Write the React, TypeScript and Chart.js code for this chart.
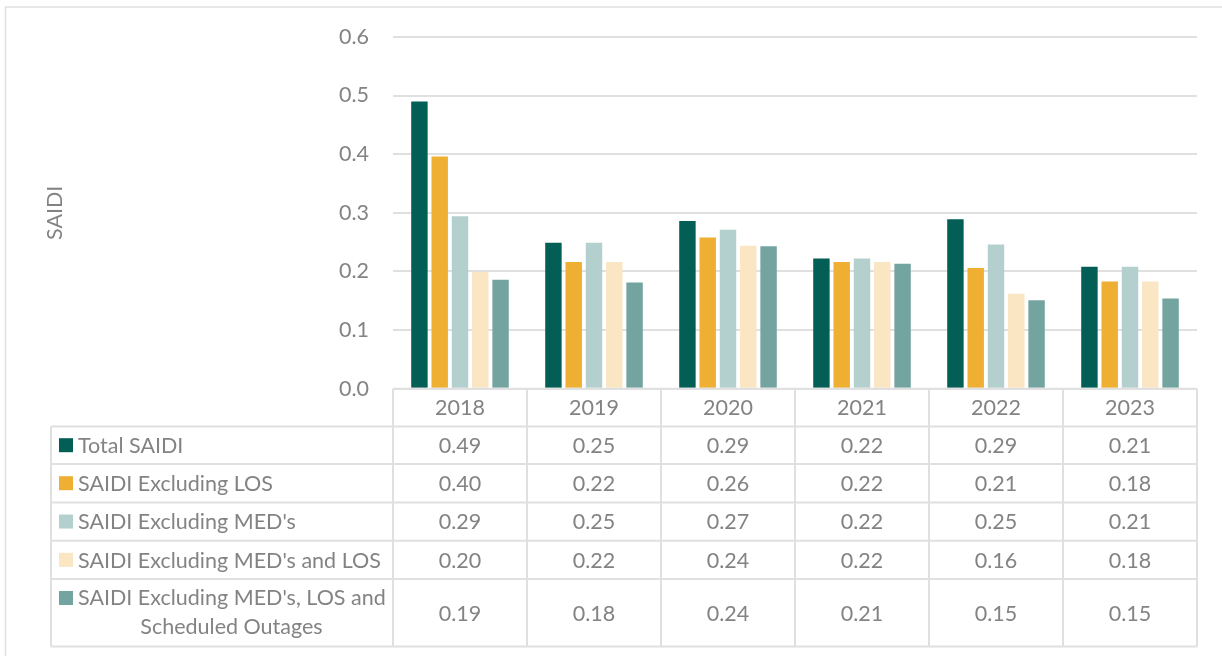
import { useEffect, useRef } from "react";
import { Chart, registerables } from "chart.js";

Chart.register(...registerables);

// Years shown along the category axis and in the table header
const years = ["2018", "2019", "2020", "2021", "2022", "2023"];

// Series names (the last one wraps onto two lines in the table)
const seriesNames = [
  "Total SAIDI",
  "SAIDI Excluding LOS",
  "SAIDI Excluding MED's",
  "SAIDI Excluding MED's and LOS",
  "SAIDI Excluding MED's, LOS and Scheduled Outages",
];
const seriesLines = [
  ["Total SAIDI"],
  ["SAIDI Excluding LOS"],
  ["SAIDI Excluding MED's"],
  ["SAIDI Excluding MED's and LOS"],
  ["SAIDI Excluding MED's, LOS and", "Scheduled Outages"],
];

// SAIDI values per year
const totalSaidi = [0.49, 0.249, 0.286, 0.222, 0.289, 0.208];
const saidiExclLos = [0.396, 0.216, 0.258, 0.216, 0.206, 0.183];
const saidiExclMeds = [0.294, 0.249, 0.271, 0.222, 0.246, 0.208];
const saidiExclMedsLos = [0.199, 0.216, 0.244, 0.216, 0.162, 0.183];
const saidiExclMedsLosSched = [0.186, 0.181, 0.243, 0.213, 0.151, 0.154];

const seriesValues = [totalSaidi, saidiExclLos, saidiExclMeds, saidiExclMedsLos, saidiExclMedsLosSched];
const seriesColors = ["#035E55", "#EEAF32", "#B3CFCE", "#FAE6C3", "#74A4A0"];

const yTicks = [0, 0.1, 0.2, 0.3, 0.4, 0.5, 0.6];

const FONT = "Lato, 'Open Sans', sans-serif";
const FONT_SIZE = 21.5;
const TEXT = "#838383";
const LINE = "#E0E0E0";

const fmt = (v: number) => (Math.round(v * 100) / 100).toFixed(2);

// Draws the outer frame, the y-axis title and the data table under the plot
const tablePlugin = {
  id: "dataTable",
  afterDraw(chart: any) {
    const ctx: CanvasRenderingContext2D = chart.ctx;
    const { left, right, top, bottom } = chart.chartArea;
    const xScale = chart.scales.x;
    const colW = (right - left) / years.length;
    const legendLeft = 51;
    const headerH = 37.7;
    const rowH = [37.6, 38.4, 38.3, 38.3, 67.4];

    ctx.save();

    // outer frame
    ctx.strokeStyle = LINE;
    ctx.lineWidth = 1.5;
    ctx.strokeRect(5.5, 7, 1300, 700);

    // y-axis title
    ctx.fillStyle = TEXT;
    ctx.font = `${FONT_SIZE}px ${FONT}`;
    ctx.textAlign = "center";
    ctx.textBaseline = "middle";
    ctx.save();
    ctx.translate(55, (top + bottom) / 2);
    ctx.rotate(-Math.PI / 2);
    ctx.fillText("SAIDI", 0, 0);
    ctx.restore();

    // row boundaries
    const rowTops: number[] = [bottom + headerH];
    rowH.forEach((h) => rowTops.push(rowTops[rowTops.length - 1] + h));
    const tableBottom = rowTops[rowTops.length - 1];

    ctx.strokeStyle = LINE;
    ctx.lineWidth = 2;
    ctx.beginPath();
    // horizontal lines
    ctx.moveTo(left, bottom);
    ctx.lineTo(right, bottom);
    rowTops.forEach((y) => {
      ctx.moveTo(legendLeft, y);
      ctx.lineTo(right, y);
    });
    // vertical lines
    ctx.moveTo(legendLeft, rowTops[0]);
    ctx.lineTo(legendLeft, tableBottom);
    for (let i = 0; i <= years.length; i++) {
      const x = left + i * colW;
      ctx.moveTo(x, bottom);
      ctx.lineTo(x, tableBottom);
    }
    ctx.stroke();

    // header
    ctx.fillStyle = TEXT;
    ctx.textAlign = "center";
    ctx.textBaseline = "middle";
    years.forEach((yr, i) => {
      ctx.fillText(yr, xScale.getPixelForValue(i), bottom + headerH / 2 + 1);
    });

    // rows
    seriesNames.forEach((_, s) => {
      const y0 = rowTops[s];
      const y1 = rowTops[s + 1];
      const cy = (y0 + y1) / 2 + 1;
      const lines = seriesLines[s];
      // legend key
      ctx.fillStyle = seriesColors[s];
      const keyY = lines.length > 1 ? y0 + 19 - 7 : cy - 8;
      ctx.fillRect(59, keyY, 14, 14);
      // label
      ctx.fillStyle = TEXT;
      if (lines.length === 1) {
        ctx.textAlign = "left";
        ctx.fillText(lines[0], 78, cy);
      } else {
        ctx.textAlign = "left";
        ctx.fillText(lines[0], 78, y0 + 19);
        ctx.textAlign = "center";
        ctx.fillText(lines[1], (78 + 385) / 2, y0 + 48);
      }
      // values
      ctx.textAlign = "center";
      seriesValues[s].forEach((v, i) => {
        ctx.fillText(fmt(v), xScale.getPixelForValue(i), cy);
      });
    });

    ctx.restore();
  },
};

export default function App() {
  const canvasRef = useRef<HTMLCanvasElement | null>(null);

  useEffect(() => {
    if (!canvasRef.current) return;
    const chart = new Chart(canvasRef.current, {
      type: "bar",
      data: {
        labels: years,
        datasets: seriesNames.map((name, s) => ({
          label: name,
          data: seriesValues[s],
          backgroundColor: seriesColors[s],
          borderWidth: 0,
          categoryPercentage: 0.757,
          barPercentage: 0.81,
        })),
      },
      options: {
        animation: false,
        responsive: false,
        devicePixelRatio: 1,
        layout: { padding: { top: 36.5, left: 0, right: 25, bottom: 267.3 } },
        plugins: {
          legend: { display: false },
          tooltip: { enabled: false },
          title: { display: false },
        },
        scales: {
          x: { display: false },
          y: {
            min: 0,
            max: 0.6,
            afterBuildTicks: (scale: any) => {
              scale.ticks = yTicks.map((v) => ({ value: v }));
            },
            afterFit: (scale: any) => {
              scale.width = 393;
            },
            border: { display: false },
            grid: { color: LINE, lineWidth: 2, drawTicks: false },
            ticks: {
              padding: 24,
              color: TEXT,
              font: { family: FONT, size: FONT_SIZE },
              callback: (v: any) => Number(v).toFixed(1),
            },
          },
        },
      },
      plugins: [tablePlugin],
    });
    return () => chart.destroy();
  }, []);

  return (
    <div style={{ position: "fixed", left: 0, top: 0, width: 1222, height: 656, background: "#fff" }}>
      <canvas ref={canvasRef} width={1222} height={656} style={{ display: "block" }} />
    </div>
  );
}
